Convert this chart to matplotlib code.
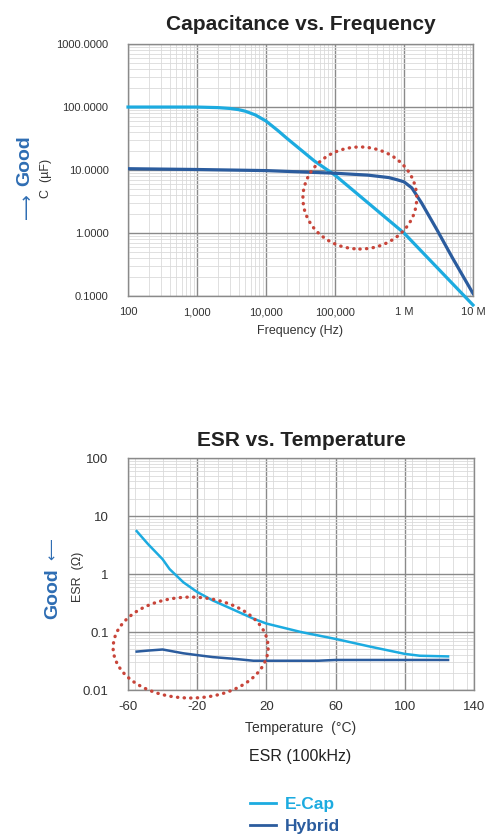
import numpy as np
import matplotlib
matplotlib.use("Agg")
import matplotlib.pyplot as plt
from matplotlib.ticker import LogLocator, NullFormatter, MultipleLocator
from matplotlib.patches import Ellipse

plt.rcParams['font.family'] = ['Liberation Sans', 'DejaVu Sans']
plt.rcParams['axes.unicode_minus'] = False

# datos: capacidad vs frecuencia
freq_ecap = [100, 1000, 2000, 3000, 4000, 5000, 7000, 1e4, 1.5e4, 2e4, 5e4, 1e5, 1e6, 1e7]
cap_ecap = [100, 100, 98, 95, 91, 86, 75, 60, 42, 32, 14, 8.3, 1.0, 0.072]
freq_hyb = [100, 1000, 1e4, 1e5, 3e5, 6e5, 8e5, 1e6, 1.3e6, 1.8e6, 3e6, 5e6, 1e7]
cap_hyb = [10.5, 10.2, 9.8, 8.9, 8.3, 7.6, 7.0, 6.5, 5.2, 3.0, 1.13, 0.41, 0.11]
freq_ticks = [100, 1000, 1e4, 1e5, 1e6, 1e7]
freq_labels = ['100', '1,000', '10,000', '100,000', '1 M', '10 M']
cap_ticks = [0.1, 1, 10, 100, 1000]
cap_labels = ['0.1000', '1.0000', '10.0000', '100.0000', '1000.0000']

# ESR vs temperatura
temp_ecap = [-55, -48.5, -40, -36, -28, -20, -11, 0, 12.5, 20, 40, 60, 80, 100, 108.7, 125]
esr_ecap = [5.5, 3.3, 1.8, 1.22, 0.72, 0.49, 0.35, 0.25, 0.17, 0.14, 0.10, 0.076, 0.056, 0.042, 0.039, 0.038]
temp_hyb = [-55, -48, -40, -28, -20, -11, 1.5, 12.5, 20, 50, 60, 125]
esr_hyb = [0.046, 0.048, 0.050, 0.043, 0.040, 0.037, 0.0345, 0.032, 0.032, 0.032, 0.033, 0.033]
temp_ticks = [-60, -20, 20, 60, 100, 140]
esr_ticks = [0.01, 0.1, 1, 10, 100]
esr_labels = ['0.01', '0.1', '1', '10', '100']

c_ecap = '#1cabe0'
c_hyb = '#2b5c9e'
c_good = '#2e6db3'
c_red = '#c8453a'
c_tick = '#333333'

fig = plt.figure(figsize=(4.91, 8.36), dpi=100)


def style_axes(ax, size, ypad):
    ax.grid(which='major', color='#8a8a8a', linewidth=1.0)
    ax.grid(which='minor', color='#dadada', linewidth=0.6)
    ax.set_axisbelow(True)
    for s in ax.spines.values():
        s.set_color('#8a8a8a')
        s.set_linewidth(1.0)
    ax.tick_params(which='both', length=0, labelsize=size, colors=c_tick)
    ax.tick_params(axis='x', pad=8)
    ax.tick_params(axis='y', pad=ypad)


# ---- grafico 1 ----
ax1 = fig.add_axes([0.2607, 0.6459, 0.7026, 0.3014])
l1, = ax1.plot(freq_ecap, cap_ecap, color=c_ecap, lw=2.3, clip_on=False, zorder=3)
l2, = ax1.plot(freq_hyb, cap_hyb, color=c_hyb, lw=2.3, zorder=4)
ax1.set_xscale('log')
ax1.set_yscale('log')
ax1.set_xlim(100, 1e7)
ax1.set_ylim(0.1, 1000)
ax1.set_xticks(freq_ticks)
ax1.set_xticklabels(freq_labels)
ax1.set_yticks(cap_ticks)
ax1.set_yticklabels(cap_labels)
ax1.xaxis.set_minor_locator(LogLocator(base=10, subs=range(2, 10)))
ax1.yaxis.set_minor_locator(LogLocator(base=10, subs=range(2, 10)))
ax1.xaxis.set_minor_formatter(NullFormatter())
ax1.yaxis.set_minor_formatter(NullFormatter())
style_axes(ax1, 8, 14)
ax1.set_title('Capacitance vs. Frequency', fontsize=15, fontweight='bold', color='#222222', pad=10)
ax1.set_xlabel('Frequency (Hz)', fontsize=9, color=c_tick, labelpad=6)

e1 = Ellipse((0.672, 0.389), 0.33, 0.405, transform=ax1.transAxes, fill=False,
             edgecolor=c_red, lw=2.4, linestyle=(0, (0.1, 1.9)), clip_on=False, zorder=5)
e1.set_capstyle('round')
ax1.add_patch(e1)

fig.text(25 / 491, 1 - 161 / 836, 'Good', rotation=90, ha='center', va='center',
         fontsize=14, fontweight='bold', color=c_good)
fig.text(27 / 491, 1 - 206 / 836, '\u27f6', rotation=90, ha='center', va='center',
         fontsize=13, color=c_good, family='DejaVu Sans')
fig.text(46 / 491, 1 - 178 / 836, 'C  (\u00b5F)', rotation=90, ha='center', va='center',
         fontsize=9, color=c_tick)

# ---- grafico 2 ----
ax2 = fig.add_axes([0.2607, 0.1746, 0.7047, 0.2775])
ax2.plot(temp_ecap, esr_ecap, color=c_ecap, lw=1.8, zorder=3)
ax2.plot(temp_hyb, esr_hyb, color=c_hyb, lw=1.8, zorder=4)
ax2.set_yscale('log')
ax2.set_xlim(-60, 140)
ax2.set_ylim(0.01, 100)
ax2.set_xticks(temp_ticks)
ax2.set_yticks(esr_ticks)
ax2.set_yticklabels(esr_labels)
ax2.xaxis.set_minor_locator(MultipleLocator(8))
ax2.yaxis.set_minor_locator(LogLocator(base=10, subs=range(2, 10)))
ax2.yaxis.set_minor_formatter(NullFormatter())
style_axes(ax2, 9.5, 14)
ax2.set_title('ESR vs. Temperature', fontsize=15, fontweight='bold', color='#222222', pad=9)
ax2.set_xlabel('Temperature  (\u00b0C)', fontsize=10, color=c_tick, labelpad=6)

e2 = Ellipse((0.181, 0.183), 0.448, 0.435, transform=ax2.transAxes, fill=False,
             edgecolor=c_red, lw=2.4, linestyle=(0, (0.1, 1.9)), clip_on=False, zorder=5)
e2.set_capstyle('round')
ax2.add_patch(e2)

fig.text(53 / 491, 1 - 594 / 836, 'Good', rotation=90, ha='center', va='center',
         fontsize=14, fontweight='bold', color=c_good)
fig.text(52 / 491, 1 - 549 / 836, '\u27f5', rotation=90, ha='center', va='center',
         fontsize=11, color=c_good, family='DejaVu Sans')
fig.text(78 / 491, 1 - 577 / 836, 'ESR  (\u03a9)', rotation=90, ha='center', va='center',
         fontsize=9, color=c_tick)

fig.text(300 / 491, 1 - 757 / 836, 'ESR (100kHz)', ha='center', va='center',
         fontsize=11.5, color='#222222')

# leyenda
leg = fig.legend([l1, l2], ['E-Cap', 'Hybrid'], loc='upper left',
                 bbox_to_anchor=(238 / 491, 1 - 785 / 836), frameon=False,
                 prop={'weight': 'bold', 'size': 12.5}, labelcolor='linecolor',
                 handlelength=1.5, handletextpad=0.5, labelspacing=0.4,
                 borderpad=0.2)
for h in leg.legend_handles:
    h.set_linewidth(2.0)

fig.savefig('out.png', dpi=100)
